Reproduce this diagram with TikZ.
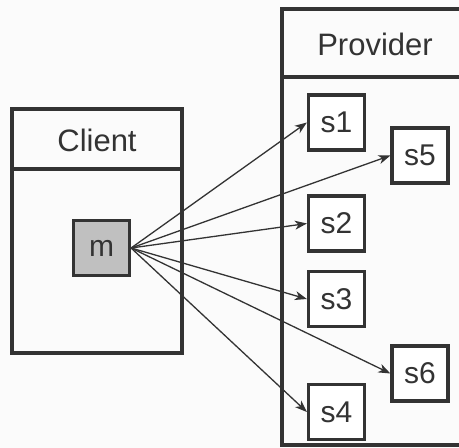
\documentclass[tikz,border=0pt]{standalone}
\usepackage{fontspec}
\setmainfont{Liberation Sans}
\usetikzlibrary{arrows.meta}
\definecolor{ink}{HTML}{333333}
\definecolor{paper}{HTML}{FBFBFB}
\definecolor{mfill}{HTML}{C0C0C0}
\begin{document}
\begin{tikzpicture}[x=1pt,y=-1pt,
  box/.style={draw=ink,line width=3.2pt,minimum width=56pt,minimum height=55pt,inner sep=0pt,
    font=\fontsize{30}{34}\selectfont,text=ink},
  label/.style={font=\fontsize{31}{35}\selectfont,text=ink,inner sep=0pt},
  frame/.style={draw=ink,line width=3.2pt},
  call/.style={draw=ink,line width=1.3pt,-{Stealth[length=12pt,width=9pt,inset=3.5pt]}}]
  % page
  \fill[paper] (0,0) rectangle (459,448);
  \useasboundingbox (0,0) rectangle (459,448);
  % client component
  \draw[frame] (12,109) rectangle (182,353);
  \draw[frame] (12,169) -- (182,169);
  \node[label] (client) at (97,140) {Client};
  % provider component (runs past the right edge)
  \draw[frame] (475,9) -- (282,9) -- (282,445) -- (475,445);
  \draw[frame] (282,77) -- (475,77);
  \node[label] (provider) at (375,44) {Provider};
  % method and services
  \node[box,fill=mfill] (m) at (101.5,248) {m};
  \node[box,fill=white] (s1) at (336.5,122.5) {s1};
  \node[box,fill=white] (s5) at (420,155.5) {s5};
  \node[box,fill=white] (s2) at (336.5,223.5) {s2};
  \node[box,fill=white] (s3) at (336.5,299) {s3};
  \node[box,fill=white] (s6) at (420,373.5) {s6};
  \node[box,fill=white] (s4) at (336.5,412) {s4};
  % calls
  \foreach \s in {s1,s5,s2,s3,s6,s4}
    \draw[call] (m.east) -- (\s.west);
\end{tikzpicture}
\end{document}
